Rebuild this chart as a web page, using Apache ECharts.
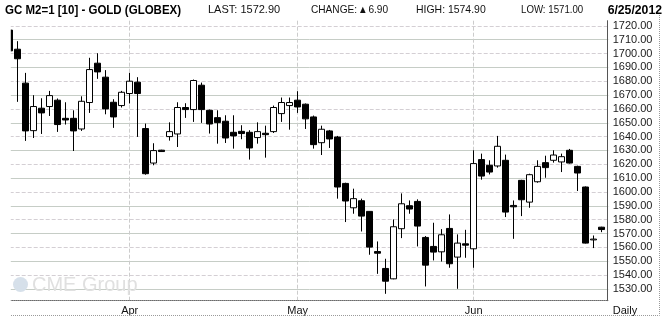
<!DOCTYPE html>
<html><head><meta charset="utf-8">
<script src="https://cdn.jsdelivr.net/npm/echarts@6/dist/echarts.min.js"></script>
<style>html,body{margin:0;padding:0;background:#fff}#c{width:668px;height:321px}</style>
</head><body><div id="c"></div>
<script>
// ---- data ----
const dates = [
 '2012-03-12','2012-03-13','2012-03-14','2012-03-15','2012-03-16','2012-03-19','2012-03-20','2012-03-21','2012-03-22','2012-03-23',
 '2012-03-26','2012-03-27','2012-03-28','2012-03-29','2012-03-30',
 '2012-04-02','2012-04-03','2012-04-04','2012-04-05','2012-04-06','2012-04-09','2012-04-10','2012-04-11','2012-04-12','2012-04-13',
 '2012-04-16','2012-04-17','2012-04-18','2012-04-19','2012-04-20','2012-04-23','2012-04-24','2012-04-25','2012-04-26','2012-04-27','2012-04-30',
 '2012-05-01','2012-05-02','2012-05-03','2012-05-04','2012-05-07','2012-05-08','2012-05-09','2012-05-10','2012-05-11','2012-05-14',
 '2012-05-15','2012-05-16','2012-05-17','2012-05-18','2012-05-21','2012-05-22','2012-05-23','2012-05-24','2012-05-25','2012-05-29','2012-05-30','2012-05-31',
 '2012-06-01','2012-06-04','2012-06-05','2012-06-06','2012-06-07','2012-06-08','2012-06-11','2012-06-12','2012-06-13','2012-06-14','2012-06-15',
 '2012-06-18','2012-06-19','2012-06-20','2012-06-21','2012-06-22','2012-06-25'
];
const opens = [
 1716.9,1703.1,1678.6,1644.3,1660.5,1661.7,1666.3,1653.2,1653.2,1645.5,
 1664.6,1693.0,1682.9,1664.8,1662.4,
 1671.1,1679.3,1645.8,1620.9,1630.2,1640.0,1641.9,1661.0,1659.5,1677.1,
 1659.0,1653.7,1651.1,1643.1,1643.8,1643.1,1639.3,1642.4,1643.6,1656.6,1662.4,
 1666.3,1663.4,1654.2,1635.6,1644.1,1639.7,1606.2,1588.6,1593.7,1586.0,
 1557.0,1544.8,1537.3,1573.5,1590.1,1593.2,1567.2,1560.7,1556.8,1573.7,1553.0,1562.6,
 1559.0,1623.4,1619.3,1618.8,1622.9,1590.3,1608.4,1592.7,1607.4,1621.2,1622.9,
 1621.7,1630.1,1618.5,1603.6,1565.4,1574.6
];
const closes = [
 1701.9,1696.2,1644.1,1661.7,1657.1,1669.6,1648.7,1652.0,1644.1,1665.5,
 1688.4,1686.7,1660.0,1654.2,1672.0,
 1680.0,1671.1,1613.2,1629.9,1629.2,1643.6,1661.0,1659.5,1680.5,1659.5,
 1649.1,1650.1,1639.0,1640.5,1642.2,1631.8,1643.6,1641.4,1661.0,1664.6,1664.6,
 1661.4,1652.8,1634.2,1645.3,1638.3,1603.6,1593.5,1595.2,1582.6,1560.2,
 1555.8,1535.6,1574.9,1591.5,1587.7,1575.4,1547.2,1556.6,1569.1,1548.2,1563.1,1561.6,
 1620.5,1611.5,1614.4,1633.0,1585.5,1589.3,1594.4,1612.5,1618.5,1617.6,1626.7,
 1625.5,1620.9,1613.7,1563.1,1566.0,1572.9
];
const lows = [
 1698.0,1665.1,1636.9,1639.0,1641.9,1654.9,1643.4,1648.7,1629.6,1644.1,
 1657.1,1681.7,1656.1,1646.3,1661.0,
 1663.9,1639.8,1612.5,1619.3,1629.0,1637.1,1632.5,1653.5,1650.6,1649.9,
 1642.2,1634.9,1635.4,1631.3,1638.1,1623.4,1634.9,1624.8,1642.6,1650.6,1645.0,
 1657.1,1645.5,1631.3,1626.7,1631.8,1595.2,1578.3,1584.3,1571.5,1554.7,
 1540.9,1526.5,1537.0,1566.7,1584.3,1560.7,1531.8,1550.6,1549.8,1545.3,1530.1,1552.5,
 1545.3,1608.9,1612.7,1617.6,1581.9,1566.2,1582.6,1588.6,1606.7,1610.3,1621.2,
 1614.4,1620.5,1600.7,1562.8,1559.5,1571.0
];
const highs = [
 1720.0,1708.9,1686.0,1669.9,1667.7,1673.0,1667.5,1664.8,1659.0,1669.1,
 1696.9,1700.2,1688.0,1667.0,1673.0,
 1686.0,1682.9,1649.4,1635.2,1630.5,1650.3,1664.8,1664.1,1681.2,1679.0,
 1659.5,1659.0,1655.4,1655.4,1648.2,1644.6,1650.3,1647.9,1662.4,1668.2,1668.2,
 1672.8,1663.9,1655.2,1647.9,1644.8,1640.5,1606.7,1602.4,1595.2,1586.0,
 1564.3,1551.8,1580.2,1599.0,1593.9,1594.7,1568.2,1577.8,1573.2,1583.8,1569.4,1572.7,
 1630.1,1627.7,1622.9,1640.5,1627.0,1593.9,1608.8,1613.2,1622.9,1626.2,1630.1,
 1627.7,1631.1,1619.0,1604.0,1568.6,1574.9
];
const monthNames = ['Jan','Feb','Mar','Apr','May','Jun','Jul','Aug','Sep','Oct','Nov','Dec'];
const yMin = 1530, yMax = 1720, yStep = 10;
const headerTitle = 'GC M2=1 [10] - GOLD (GLOBEX)';
const lastPrice = 1572.90, changeVal = 6.90, highVal = 1574.90, lowVal = 1571.00;
const headerDate = '6/25/2012';

// ---- derived ----
const cats = dates.concat(['']);
const monthStart = {};
dates.forEach((d, i) => {
  if (i > 0 && d.slice(5, 7) !== dates[i - 1].slice(5, 7)) monthStart[d] = monthNames[+d.slice(5, 7) - 1];
});
const candles = dates.map((d, i) => [opens[i], closes[i], lows[i], highs[i]]);

const pxPer = 1.385, y1720 = 25.8;
const gLeft = 9.7, gWidth = 600;
const font = '"Liberation Sans", Arial, sans-serif';
const boldFont = 'bold 13px "Liberation Sans", Arial, sans-serif';

const chart = echarts.init(document.getElementById('c'), null, {renderer: 'canvas'});
const option = {
  animation: false,
  backgroundColor: '#fff',
  grid: [
    {left: gLeft, width: gWidth, top: y1720 - pxPer * 10, height: pxPer * 210},
    {left: gLeft, width: gWidth, top: 20.7, height: 280},
    {left: gLeft, width: gWidth, top: y1720 + pxPer * 10, height: pxPer * 180}
  ],
  xAxis: [
    {gridIndex: 0, type: 'category', data: cats, boundaryGap: false, show: false},
    {gridIndex: 1, type: 'category', data: cats, boundaryGap: false,
      axisLine: {show: true, lineStyle: {color: '#6a6a6a', type: 'dotted', width: 1}},
      axisTick: {show: false},
      axisLabel: {interval: (i, v) => !!monthStart[v], formatter: v => monthStart[v] || '',
        margin: 5, fontSize: 11, color: '#111', fontFamily: font},
      splitLine: {show: true, interval: (i, v) => !!monthStart[v],
        lineStyle: {color: '#cccccc', type: [4, 2], width: 1}}},
    {gridIndex: 2, type: 'category', data: cats, boundaryGap: false, show: false}
  ],
  yAxis: [
    {gridIndex: 0, type: 'value', position: 'right', offset: -2, min: yMin - yStep, max: yMax + yStep, interval: yStep,
      axisLine: {show: false}, axisTick: {show: false}, splitLine: {show: false},
      axisLabel: {showMinLabel: false, showMaxLabel: false, formatter: v => v.toFixed(2),
        margin: 5, fontSize: 11, color: '#1a1a1a', fontFamily: font}},
    {gridIndex: 0, type: 'value', position: 'right', offset: -2, min: yMin - yStep, max: yMax + yStep, interval: yStep * 2,
      axisLine: {show: false}, axisTick: {show: false}, axisLabel: {show: false},
      splitLine: {show: true, showMinLine: false, showMaxLine: false,
        lineStyle: {color: '#d4cfd4', type: [4, 2], width: 1}}},
    {gridIndex: 1, type: 'value', position: 'right', offset: -2, min: 0, max: 1,
      axisLine: {show: true, lineStyle: {color: '#555', width: 1}}, axisTick: {show: false},
      axisLabel: {show: false}, splitLine: {show: false}},
    {gridIndex: 2, type: 'value', position: 'right', offset: -2, min: yMin, max: yMax - yStep, interval: yStep * 2,
      axisLine: {show: false}, axisTick: {show: false}, axisLabel: {show: false},
      splitLine: {show: true, lineStyle: {color: '#c6cdc6', type: 'solid', width: 1}}}
  ],
  series: [{
    type: 'candlestick', xAxisIndex: 0, yAxisIndex: 0, data: candles, barWidth: 6, clip: true,
    itemStyle: {color: '#fff', color0: '#000', borderColor: '#000', borderColor0: '#000', borderColorDoji: '#000', borderWidth: 1},
    emphasis: {disabled: true}, silent: true,
    markLine: {
      silent: true, symbol: ['none', 'none'], z: 6,
      lineStyle: {opacity: 0},
      label: {position: 'end', distance: 0, formatter: lastPrice.toFixed(2), color: '#fff', backgroundColor: '#000',
        padding: [1, 8, 0, 3], fontSize: 11, fontFamily: font},
      data: [{yAxis: lastPrice}]
    }
  }],
  graphic: [
    // plot-frame masks (left edge clip of partial first candle, right gridline stub)
    {type: 'rect', z: 4, shape: {x: 0, y: 19, width: 10.8, height: 283}, style: {fill: '#fff'}, silent: true},
    {type: 'rect', z: 4, shape: {x: 608.3, y: 10, width: 1.6, height: 295}, style: {fill: '#fff'}, silent: true},
    // header
    {type: 'text', x: 5, y: 10, z: 10, scaleX: 0.885, style: {text: headerTitle, font: boldFont, fill: '#000', verticalAlign: 'middle'}},
    {type: 'text', x: 208, y: 10, z: 10, style: {text: 'LAST: ' + lastPrice.toFixed(2), font: '11px ' + font, fill: '#111', verticalAlign: 'middle'}},
    {type: 'text', x: 311, y: 10, z: 10, scaleX: 0.92, style: {
      text: 'CHANGE: {t|\u25B2} ' + changeVal.toFixed(2), font: '11px ' + font, fill: '#111', verticalAlign: 'middle',
      rich: {t: {fontSize: 8, fontFamily: 'DejaVu Sans', fill: '#111'}}}},
    {type: 'text', x: 416, y: 10, z: 10, scaleX: 0.95, style: {text: 'HIGH: ' + highVal.toFixed(2), font: '11px ' + font, fill: '#111', verticalAlign: 'middle'}},
    {type: 'text', x: 521, y: 10, z: 10, scaleX: 0.88, style: {text: 'LOW: ' + lowVal.toFixed(2), font: '11px ' + font, fill: '#111', verticalAlign: 'middle'}},
    {type: 'text', x: 662, y: 10, z: 10, scaleX: 0.94, style: {text: headerDate, font: boldFont, fill: '#000', align: 'right', verticalAlign: 'middle'}},
    {type: 'text', x: 612.7, y: 310.5, z: 10, style: {text: 'Daily', font: '11px ' + font, fill: '#111', verticalAlign: 'middle'}},
    // outer frame
    {type: 'line', z: 3, shape: {x1: 11, y1: 315.5, x2: 659.5, y2: 315.5}, style: {stroke: '#9a9a9a', lineWidth: 1, lineDash: [1, 1]}},
    {type: 'line', z: 3, shape: {x1: 659.5, y1: 15, x2: 659.5, y2: 315.5}, style: {stroke: '#9a9a9a', lineWidth: 1, lineDash: [1, 1]}},
    // watermark
    {type: 'circle', z: 1, shape: {cx: 20.5, cy: 284.5, r: 7.5}, style: {fill: '#d6e0ea'}, silent: true},
    {type: 'text', x: 32, y: 285, z: 1, style: {text: 'CME Group', font: '20px ' + font, fill: '#e0e0e0', verticalAlign: 'middle'}, silent: true}
  ]
};
chart.setOption(option);
</script>
</body></html>
